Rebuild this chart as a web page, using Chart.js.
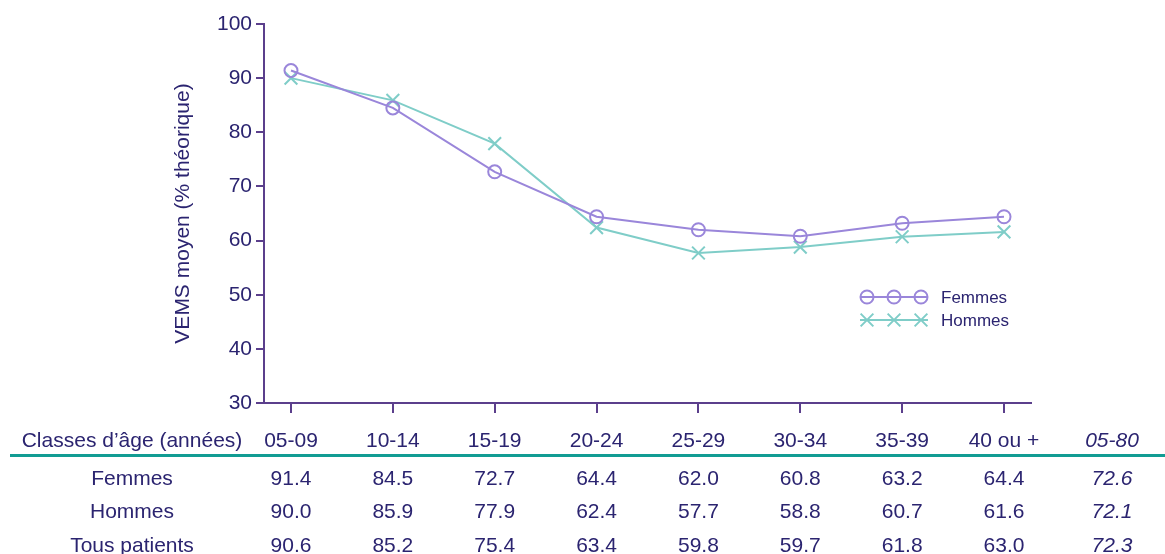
<!DOCTYPE html>
<html>
<head>
<meta charset="utf-8">
<script src="https://cdn.jsdelivr.net/npm/chart.js@4.4.0/dist/chart.umd.min.js"></script>
<style>
  body { margin: 0; background: #fff; }
  #wrap { position: relative; width: 1165px; height: 554px; overflow: hidden; }
  #wrap canvas { position: absolute; left: 0; top: 0; }
  .cell { position: absolute; height: 24px; line-height: 24px; transform: translateX(-50%);
          white-space: nowrap; font-family: "Liberation Sans", Arial, sans-serif; font-size: 21px; color: #2b2470; }
  .it { font-style: italic; }
  #rule { position: absolute; left: 10px; right: 0; top: 454px; height: 3px; background: #119c93; }
</style>
</head>
<body>
<div id="wrap">
  <canvas id="vemsChart" width="1165" height="554"></canvas>
  <div id="rule"></div>
</div>
<script>
const categories = ['05-09', '10-14', '15-19', '20-24', '25-29', '30-34', '35-39', '40 ou +'];
const femmes = [91.4, 84.5, 72.7, 64.4, 62.0, 60.8, 63.2, 64.4];
const hommes = [90.0, 85.9, 77.9, 62.4, 57.7, 58.8, 60.7, 61.6];
const tousPatients = [90.6, 85.2, 75.4, 63.4, 59.8, 59.7, 61.8, 63.0];
const totalLabel = '05-80';
const totals = { femmes: 72.6, hommes: 72.1, tous: 72.3 };
const yTicks = [30, 40, 50, 60, 70, 80, 90, 100];

const axisColor = '#5b3f8c';
const textColor = '#2b2470';
const femmesColor = '#9a86da';
const hommesColor = '#7fcdc8';

// légende : trois symboles sur un trait, comme dans l'original
const legendPlugin = {
    id: 'tripleLegend',
    afterDraw(chart) {
        const ctx = chart.ctx;
        const rows = [
            { label: 'Femmes', ds: chart.data.datasets[0], y: 297 },
            { label: 'Hommes', ds: chart.data.datasets[1], y: 320 }
        ];
        ctx.save();
        rows.forEach(r => {
            ctx.strokeStyle = r.ds.borderColor;
            ctx.lineWidth = 2;
            ctx.beginPath();
            ctx.moveTo(860, r.y);
            ctx.lineTo(928, r.y);
            ctx.stroke();
            ctx.fillStyle = 'rgba(255,255,255,0)';
            [867, 894, 921].forEach(x => {
                Chart.helpers.drawPoint(ctx, {
                    pointStyle: r.ds.pointStyle,
                    radius: r.ds.pointRadius,
                    borderWidth: 2,
                    rotation: 0
                }, x, r.y);
            });
            ctx.fillStyle = textColor;
            ctx.font = '17px "Liberation Sans", Arial, sans-serif';
            ctx.textBaseline = 'middle';
            ctx.fillText(r.label, 941, r.y + 1);
        });
        ctx.restore();
    }
};

const chart = new Chart(document.getElementById('vemsChart').getContext('2d'), {
    type: 'line',
    data: {
        datasets: [{
            label: 'Femmes',
            data: femmes.map((v, i) => ({ x: i, y: v })),
            borderColor: femmesColor,
            backgroundColor: 'rgba(0,0,0,0)',
            borderWidth: 2,
            pointStyle: 'circle',
            pointRadius: 6.5,
            pointBorderWidth: 2,
            pointBorderColor: femmesColor,
            pointBackgroundColor: 'rgba(255,255,255,0)',
            tension: 0
        }, {
            label: 'Hommes',
            data: hommes.map((v, i) => ({ x: i, y: v })),
            borderColor: hommesColor,
            backgroundColor: 'rgba(0,0,0,0)',
            borderWidth: 2,
            pointStyle: 'crossRot',
            pointRadius: 9,
            pointBorderWidth: 2,
            pointBorderColor: hommesColor,
            tension: 0
        }]
    },
    options: {
        responsive: false,
        animation: false,
        layout: { padding: { left: 0, top: 24, right: 134, bottom: 0 } },
        plugins: {
            legend: { display: false },
            tooltip: { enabled: false }
        },
        scales: {
            x: {
                type: 'linear',
                min: -0.265,
                max: 7.265,
                afterBuildTicks: s => { s.ticks = categories.map((c, i) => ({ value: i })); },
                afterFit: s => { s.height = 151; },
                ticks: { display: false },
                grid: { drawOnChartArea: false, drawTicks: true, tickLength: 10, color: axisColor, lineWidth: 2 },
                border: { color: axisColor, width: 2 }
            },
            y: {
                min: 30,
                max: 100,
                afterBuildTicks: s => { s.ticks = yTicks.map(v => ({ value: v })); },
                afterFit: s => { s.width = 264; },
                ticks: {
                    color: textColor,
                    padding: 4,
                    font: { family: '"Liberation Sans", Arial, sans-serif', size: 21 }
                },
                grid: { drawOnChartArea: false, drawTicks: true, tickLength: 8, color: axisColor, lineWidth: 2 },
                border: { color: axisColor, width: 2 },
                title: {
                    display: true,
                    text: 'VEMS moyen (% théorique)',
                    color: textColor,
                    font: { family: '"Liberation Sans", Arial, sans-serif', size: 21 },
                    padding: { top: 171, bottom: 0 }
                }
            }
        }
    },
    plugins: [legendPlugin]
});

// tableau sous le graphique, colonnes alignées sur l'axe des x
const wrap = document.getElementById('wrap');
const xs = chart.scales.x;
const labelX = 132;
const totalX = 1112;
function cell(text, x, cy, italic) {
    const d = document.createElement('div');
    d.className = 'cell' + (italic ? ' it' : '');
    d.textContent = text;
    d.style.left = x + 'px';
    d.style.top = (cy - 12) + 'px';
    wrap.appendChild(d);
}
const rows = [
    { label: "Classes d\u2019âge (années)", vals: categories, total: totalLabel, y: 440 },
    { label: 'Femmes', vals: femmes.map(v => v.toFixed(1)), total: totals.femmes.toFixed(1), y: 478 },
    { label: 'Hommes', vals: hommes.map(v => v.toFixed(1)), total: totals.hommes.toFixed(1), y: 511 },
    { label: 'Tous patients', vals: tousPatients.map(v => v.toFixed(1)), total: totals.tous.toFixed(1), y: 545 }
];
rows.forEach(r => {
    cell(r.label, labelX, r.y, false);
    r.vals.forEach((v, i) => cell(v, xs.getPixelForValue(i), r.y, false));
    cell(r.total, totalX, r.y, true);
});
</script>
</body>
</html>
